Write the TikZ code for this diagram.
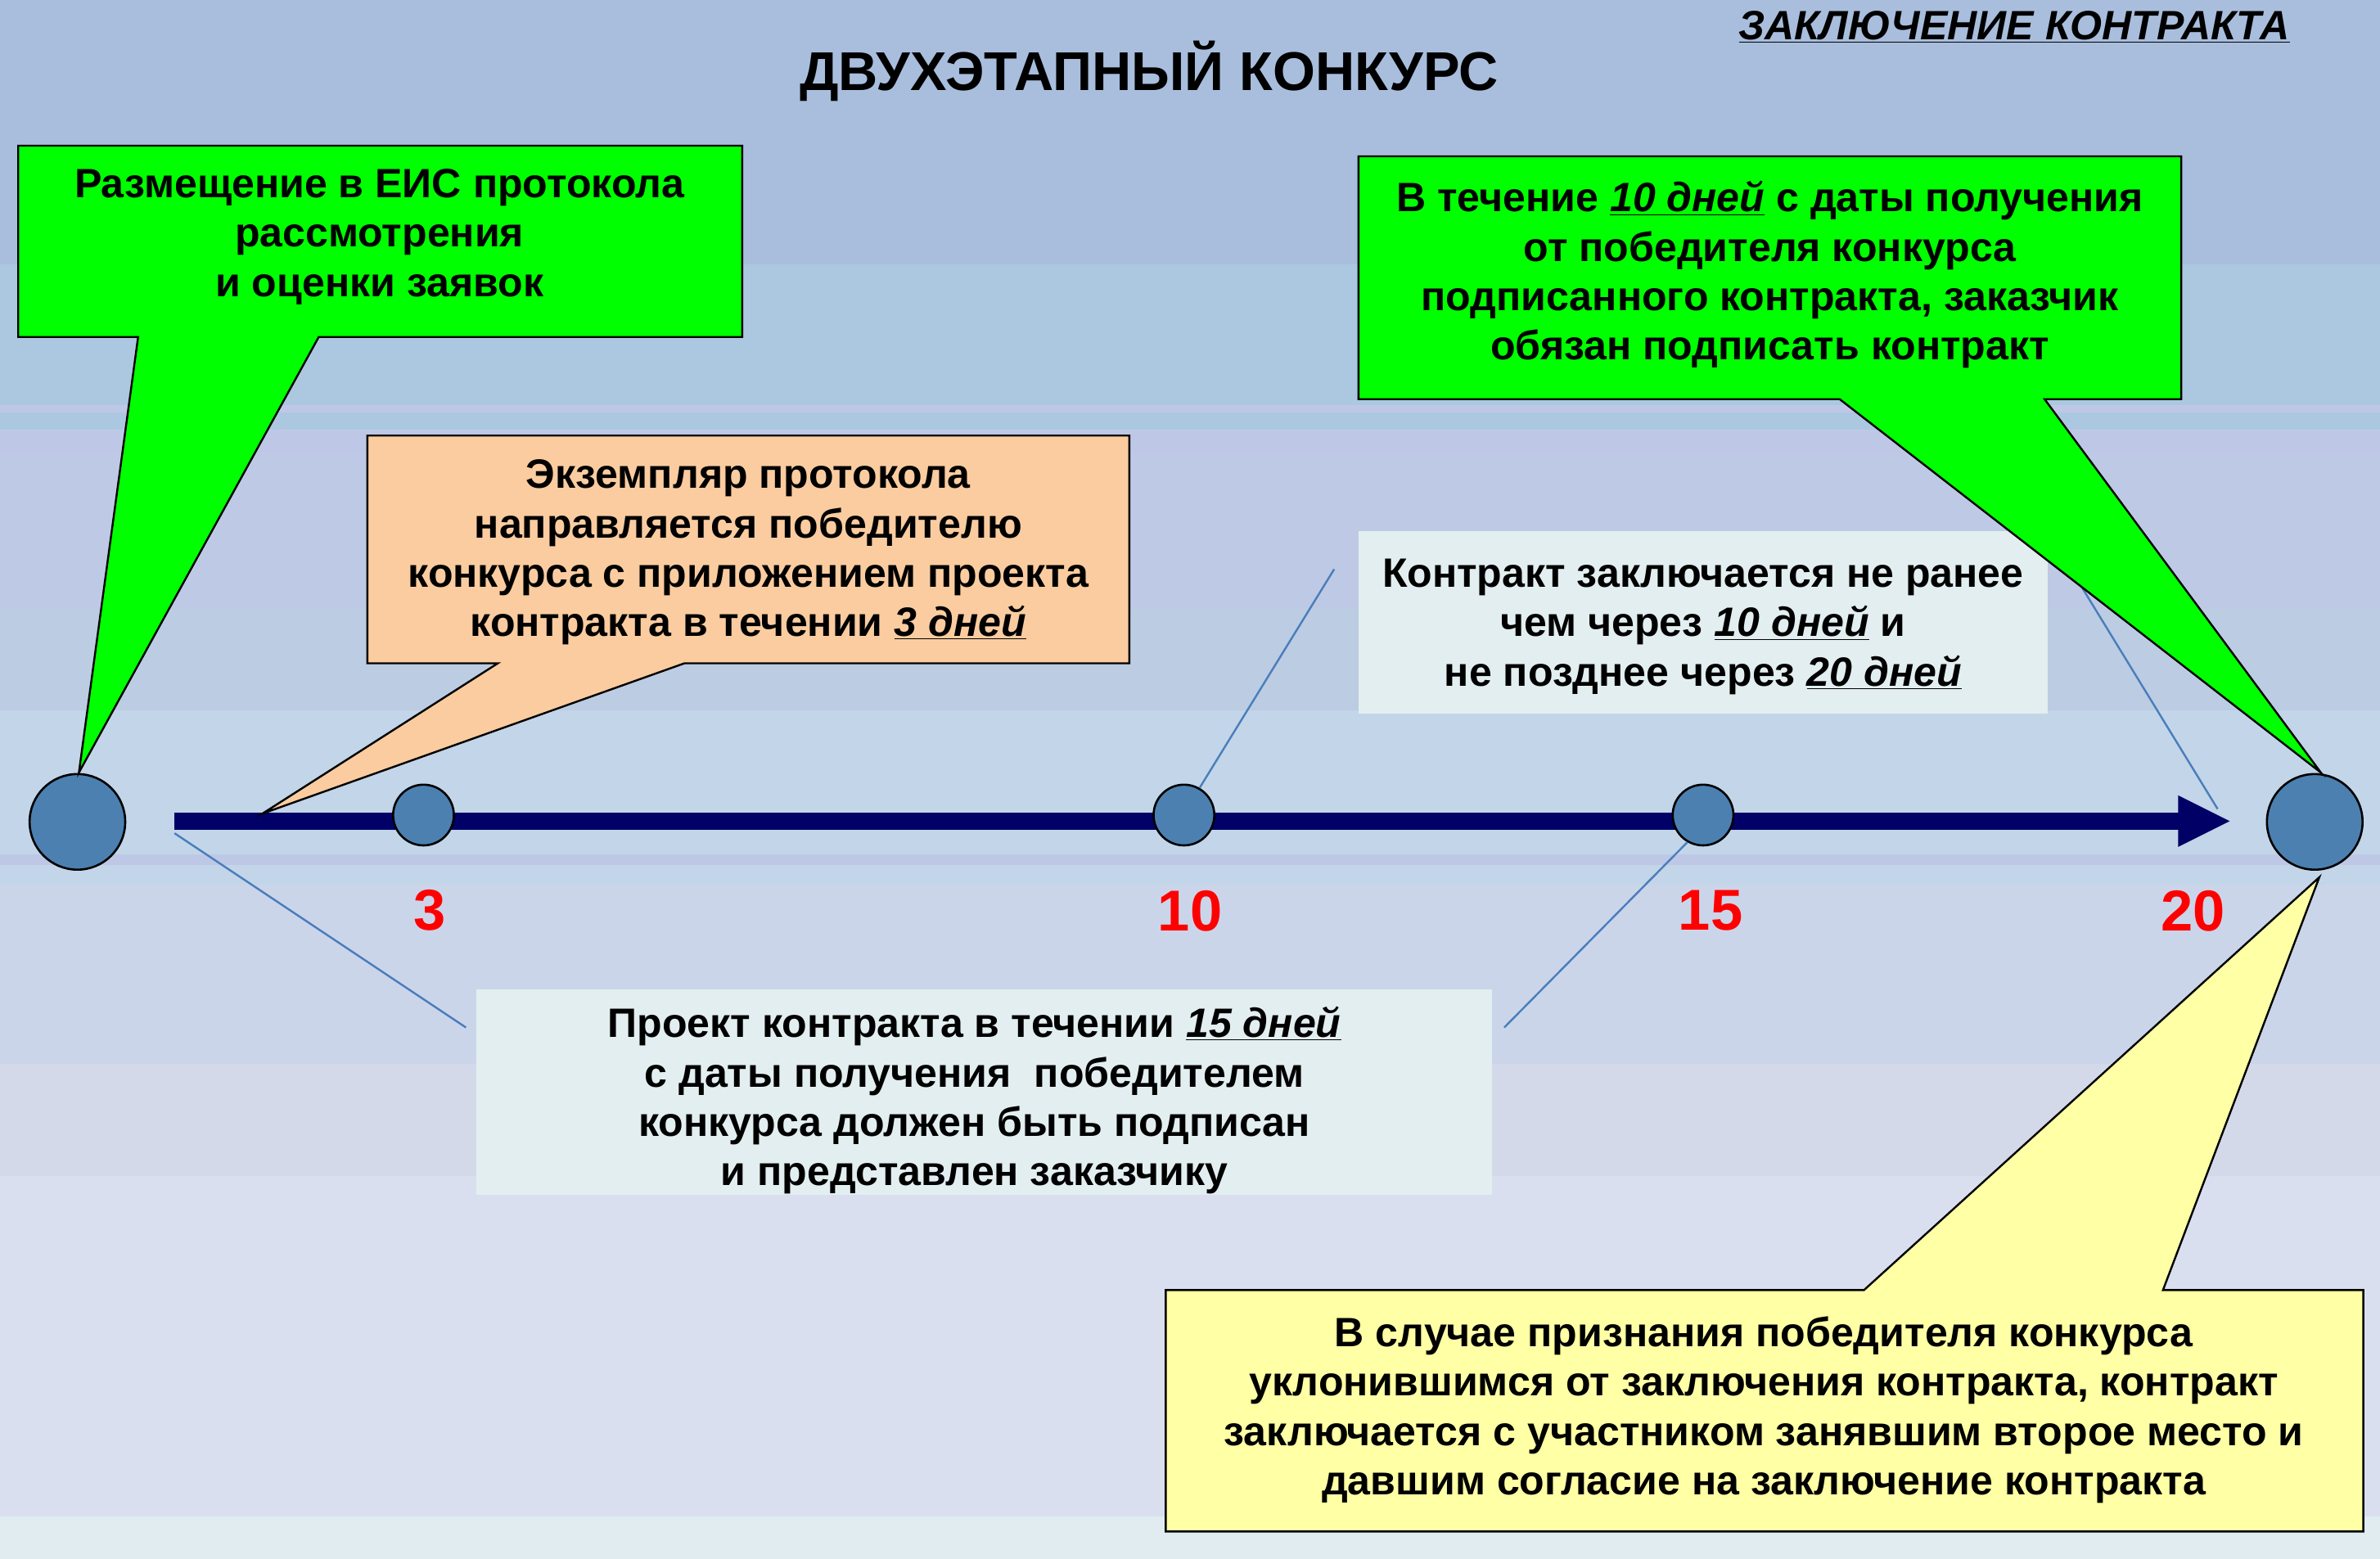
\documentclass[tikz,border=0pt]{standalone}
\usepackage{fontspec}
\setmainfont{Liberation Sans}
\definecolor{bgA}{RGB}{169,190,221}
\definecolor{bgB}{RGB}{172,200,224}
\definecolor{bgL}{RGB}{190,200,230}
\definecolor{bgC}{RGB}{190,201,229}
\definecolor{bgD}{RGB}{188,204,226}
\definecolor{bgE}{RGB}{195,213,232}
\definecolor{bgF}{RGB}{203,213,234}
\definecolor{bgG}{RGB}{212,217,234}
\definecolor{bgH}{RGB}{218,223,240}
\definecolor{bgI}{RGB}{224,236,239}
\definecolor{calgreen}{RGB}{0,255,0}
\definecolor{calorange}{RGB}{250,204,160}
\definecolor{calyellow}{RGB}{255,255,165}
\definecolor{lightbox}{RGB}{227,238,240}
\definecolor{dotblue}{RGB}{76,128,177}
\definecolor{barnavy}{RGB}{0,0,102}
\definecolor{thinline}{RGB}{74,126,187}
\begin{document}
\begin{tikzpicture}[x=1pt,y=-1pt,
  callout/.style={draw=black,line width=1.3pt,line join=miter},
  boxtext/.style={align=center,inner sep=0pt,font=\bfseries\fontsize{27}{32.5}\selectfont},
  dot/.style={circle,draw=black,line width=1.4pt,fill=dotblue,inner sep=0pt,minimum size=40pt},
  bigdot/.style={dot,minimum size=63pt},
  daylabel/.style={text=red,font=\bfseries\fontsize{38}{40}\selectfont,inner sep=0pt},
  connector/.style={draw=thinline,line width=1.3pt}]
\useasboundingbox (0,0) rectangle (1568,1027);
% background bands
\fill[bgA] (0,0) rectangle (1568,174);
\fill[bgB] (0,174) rectangle (1568,267);
\fill[bgL] (0,267) rectangle (1568,272);
\fill[bgB] (0,272) rectangle (1568,283);
\fill[bgL] (0,283) rectangle (1568,298);
\fill[bgC] (0,298) rectangle (1568,401);
\fill[bgD] (0,401) rectangle (1568,468);
\fill[bgE] (0,468) rectangle (1568,563);
\fill[bgL] (0,563) rectangle (1568,570);
\fill[bgE] (0,570) rectangle (1568,583);
\fill[bgF] (0,583) rectangle (1568,701);
\fill[bgG] (0,701) rectangle (1568,775);
\fill[bgH] (0,775) rectangle (1568,999);
\fill[bgI] (0,999) rectangle (1568,1027);
% titles
\node[font=\bfseries\fontsize{36}{40}\selectfont,inner sep=0pt] (title) at (757,47) {ДВУХЭТАПНЫЙ КОНКУРС};
\node[font=\bfseries\itshape\fontsize{27}{30}\selectfont,inner sep=0pt] (subtitle) at (1327,18) {\underline{ЗАКЛЮЧЕНИЕ КОНТРАКТА}};
% coordinates
\coordinate (barL) at (115,541);
\coordinate (barR) at (1469,541);
\coordinate (barLb) at (115,549);
\coordinate (lnA) at (307,677);
\coordinate (lnB) at (991,677);
\coordinate (lnC) at (879,375);
\coordinate (lnD0) at (1352,355);
\coordinate (lnD1) at (1461,533);
% light boxes
\fill[lightbox] (895,350) rectangle (1349,470);
\node[boxtext] (t4) at (1122,413) {Контракт заключается не ранее\\чем через \underline{\textit{10 дней}} и\\не позднее через \underline{\textit{20 дней}}};
\fill[lightbox] (314,652) rectangle (983,787);
\node[boxtext] (t5) at (642,725) {Проект контракта в течении \underline{\textit{15 дней}}\\с даты получения\ \ победителем\\конкурса должен быть подписан\\и представлен заказчику};
% timeline
\draw[barnavy,line width=11pt] (barL) -- (1436,541);
\fill[barnavy] (1435,524) -- (barR) -- (1435,558) -- cycle;
\node[bigdot] (c0) at (51,541.5) {};
\node[dot] (c3) at (279,537) {};
\node[dot] (c10) at (780,537) {};
\node[dot] (c15) at (1122,537) {};
\node[bigdot] (c20) at (1525,541.5) {};
% thin connectors
\draw[connector] (barLb) -- (lnA);
\draw[connector] (c15.240) -- (lnB);
\draw[connector] (c10.60) -- (lnC);
\draw[connector] (lnD0) -- (lnD1);
% day labels
\node[daylabel] (d3) at (283,600) {3};
\node[daylabel] (d10) at (784,600) {10};
\node[daylabel] (d15) at (1127,600) {15};
\node[daylabel] (d20) at (1445,600) {20};
% callouts
\draw[callout,fill=calgreen] (12,96) -- (489,96) -- (489,222) -- (210,222) -- (52,509) -- (91,222) -- (12,222) -- cycle;
\node[boxtext] (t1) at (250,156) {Размещение в ЕИС протокола\\рассмотрения\\и оценки заявок};
\draw[callout,fill=calorange] (242,287) -- (744,287) -- (744,437) -- (451,437) -- (173,536) -- (328,437) -- (242,437) -- cycle;
\node[boxtext] (t2) at (493,364) {Экземпляр протокола\\направляется победителю\\конкурса с приложением проекта\\контракта в течении \underline{\textit{3 дней}}};
\draw[callout,fill=calgreen] (895,103) -- (1437,103) -- (1437,263) -- (1347,263) -- (1529,509) -- (1212,263) -- (895,263) -- cycle;
\node[boxtext] (t3) at (1166,181) {В течение \underline{\textit{10 дней}} с даты получения\\от победителя конкурса\\подписанного контракта, заказчик\\обязан подписать контракт};
\draw[callout,fill=calyellow] (768,850) -- (1228,850) -- (1528,578) -- (1425,850) -- (1557,850) -- (1557,1009) -- (768,1009) -- cycle;
\node[boxtext] (t6) at (1162,929) {В случае признания победителя конкурса\\уклонившимся от заключения контракта, контракт\\заключается с участником занявшим второе место и\\давшим согласие на заключение контракта};
\end{tikzpicture}
\end{document}
